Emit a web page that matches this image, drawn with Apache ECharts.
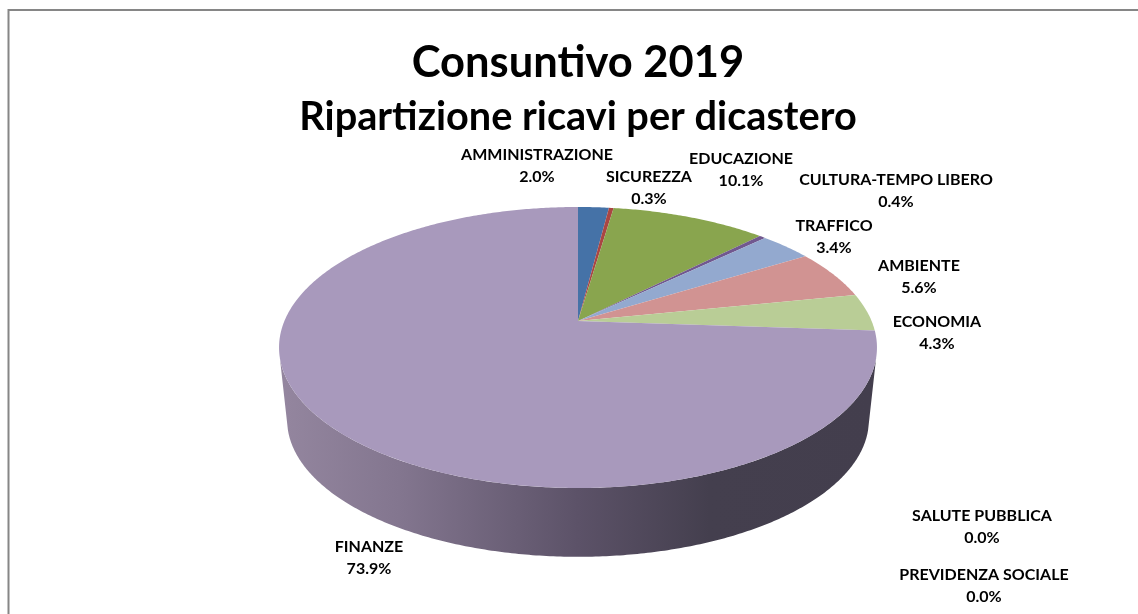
<!DOCTYPE html>
<html><head><meta charset="utf-8">
<style>html,body{margin:0;padding:0;background:#fff}#c{width:1138px;height:614px}</style>
<script src="https://cdn.jsdelivr.net/npm/echarts@6/dist/echarts.min.js"></script>
</head><body><div id="c"></div>
<script>
// ---- data ----
const titleMain = 'Consuntivo 2019';
const titleSub = 'Ripartizione ricavi per dicastero';
const categories = ['AMMINISTRAZIONE','SICUREZZA','EDUCAZIONE','CULTURA-TEMPO LIBERO','TRAFFICO','AMBIENTE','ECONOMIA','SALUTE PUBBLICA','PREVIDENZA SOCIALE','FINANZE'];
const shares = [2.0,0.3,10.1,0.4,3.4,5.6,4.3,0.0,0.0,73.9];
// ---- styles / layout ----
const faceColors = ['#4572A7','#AA4643','#89A54E','#71588F','#93A9CF','#D19392','#B9CD96','#4198AF','#DB843D','#A899BC'];
const labelCenters = [[537,166],[649,188],[741,170],[896,191],[834,237],[919,277],[937,333],[982,527],[984,586],[369,558]];
const FONT = 'Lato, "Open Sans", sans-serif';
const geo = {cx:578, cy:321, rx:293.6, b:135.5, k:-0.1886, botCy:394, botX:0.973, botY:0.975};
const wallRange = [105*Math.PI/180, 255*Math.PI/180];
const total = shares.reduce((a,b)=>a+b,0);
const starts = []; shares.reduce((a,v,i)=>(starts[i]=a,a+v),0);

function proj(theta, bottom){
  const X=Math.sin(theta), Y=-Math.cos(theta), d=1+geo.k*Y;
  const px=geo.rx*X/d, py=geo.b*Y/d;
  return bottom ? [geo.cx+px*geo.botX, geo.botCy+py*geo.botY] : [geo.cx+px, geo.cy+py];
}
function arc(a0,a1,bottom){
  const n=Math.max(2,Math.ceil((a1-a0)/0.01)), pts=[];
  for(let i=0;i<=n;i++) pts.push(proj(a0+(a1-a0)*i/n,bottom));
  return pts;
}
const wallFill={type:'linear',x:280,y:0,x2:876,y2:0,global:true,colorStops:[
  {offset:0,color:'#94869f'},{offset:0.2,color:'#83768f'},{offset:0.5,color:'#5c5268'},{offset:0.72,color:'#443f4e'},{offset:1,color:'#433e4d'}]};

function wallItem(params,api){
  const full=2*Math.PI;
  const a0=Math.max(api.value(1)/total*full,wallRange[0]);
  const a1=Math.min((api.value(1)+api.value(0))/total*full,wallRange[1]);
  if(a1<=a0) return null;
  const pts=arc(a0,a1,false).concat(arc(a0,a1,true).reverse());
  return {type:'polygon',shape:{points:pts},style:{fill:wallFill}};
}
function faceItem(params,api){
  const i=params.dataIndex, a0=api.value(1)/total*2*Math.PI, a1=a0+api.value(0)/total*2*Math.PI;
  if(a1===a0) return null;
  const pts=[[geo.cx,geo.cy]].concat(arc(a0,a1,false));
  return {type:'polygon',shape:{points:pts},style:{fill:faceColors[i]}};
}
function labelItem(params,api){
  const i=params.dataIndex;
  return {type:'text',x:labelCenters[i][0],y:labelCenters[i][1],style:{
    text:categories[i]+'\n'+api.value(0).toFixed(1)+'%',
    fill:'#000',font:'bold 16px '+FONT,lineHeight:22.5,align:'center',verticalAlign:'middle'}};
}
const dataRows=shares.map((v,i)=>[v,starts[i]]);
const common={type:'custom',coordinateSystem:'none',data:dataRows,silent:true,animation:false,clip:false};
const chart=echarts.init(document.getElementById('c'),null,{renderer:'canvas'});
chart.setOption({
  backgroundColor:'#fff',
  animation:false,
  title:[
    {text:titleMain,left:573,top:36,textAlign:'center',textStyle:{fontFamily:FONT,fontWeight:'bold',fontSize:43.5,color:'#000'}},
    {text:titleSub,left:573,top:92,textAlign:'center',textStyle:{fontFamily:FONT,fontWeight:'bold',fontSize:39.7,color:'#000'}}
  ],
  graphic:[{type:'polyline',silent:true,shape:{points:[[8.5,614],[8.5,10],[1138,10]]},style:{fill:null,stroke:'#868686',lineWidth:2}}],
  series:[
    Object.assign({},common,{renderItem:wallItem,z:1}),
    Object.assign({},common,{renderItem:faceItem,z:2}),
    Object.assign({},common,{renderItem:labelItem,z:3})
  ]
});
</script></body></html>
